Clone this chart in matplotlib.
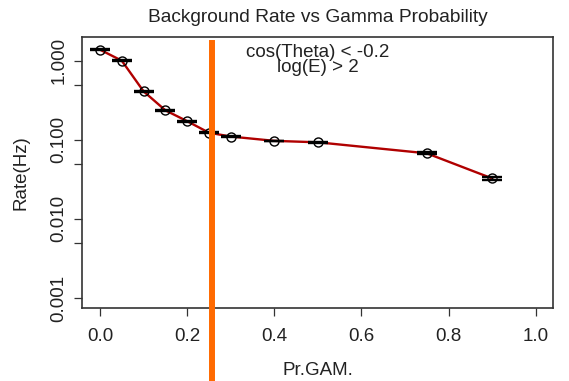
import numpy as np
import matplotlib
matplotlib.use("Agg")
import matplotlib.pyplot as plt

# data
pr_gam = [0.0, 0.05, 0.10, 0.15, 0.20, 0.25, 0.30, 0.40, 0.50, 0.75, 0.90]
rate = [1.38, 1.00, 0.41, 0.236, 0.172, 0.123, 0.110, 0.097, 0.093, 0.0675, 0.0325]
rate_err = [0.02, 0.015, 0.006, 0.003, 0.002, 0.0015, 0.0013, 0.001, 0.001, 0.0018, 0.0014]
cut_value = 0.257

yticks = [1.0, 0.1, 0.01, 0.001]
yticklabels = ["1.000", "0.100", "0.010", "0.001"]
yticks_extra = [0.5, 0.05, 0.005]
xticks = [0.0, 0.2, 0.4, 0.6, 0.8, 1.0]

plt.rcParams['font.family'] = ['Liberation Sans', 'DejaVu Sans']
txt = '#222222'

fig = plt.figure(figsize=(5.69, 3.81), dpi=100)
ax = fig.add_axes([0.1441, 0.1916, 0.8278, 0.7113])

ax.plot(pr_gam, rate, '-', color='#b00000', lw=1.7, zorder=2)
ax.errorbar(pr_gam, rate, yerr=rate_err, fmt='none', ecolor='black',
            elinewidth=1.0, capsize=7.0, capthick=1.7, zorder=3)
ax.plot(pr_gam, rate, 'o', ms=6.5, mfc='none', mec='black', mew=1.0, zorder=4)

ax.axvline(cut_value, ymin=-0.3, ymax=0.978, color='#ff6a00', lw=4.3,
           clip_on=False, zorder=5)

ax.set_yscale('log')
ax.set_xlim(-0.0413, 1.0396)
ax.set_ylim(7.48e-4, 1.994)
ax.set_xticks(xticks)
ax.set_xticklabels(["%.1f" % v for v in xticks])
ax.set_yticks(yticks + yticks_extra)
ax.set_yticklabels(yticklabels + [""] * len(yticks_extra), rotation=90, va='center')
ax.minorticks_off()
ax.tick_params(axis='both', length=5.5, width=0.9, color='#333333',
               labelsize=13.5, labelcolor=txt, pad=5)
ax.tick_params(axis='x', pad=9)
for s in ax.spines.values():
    s.set_linewidth(1.2)
    s.set_color('#333333')

ax.set_xlabel("Pr.GAM.", fontsize=13.5, color=txt, labelpad=12)
ax.set_ylabel("Rate(Hz)", fontsize=13.5, color=txt, labelpad=15)
ax.set_title("Background Rate vs Gamma Probability", fontsize=13.8, color=txt, pad=11)

ax.text(0.5, 0.975, "cos(Theta) < -0.2\nlog(E) > 2", transform=ax.transAxes,
        ha='center', va='top', fontsize=13.5, color=txt, linespacing=0.85)

fig.savefig("out.png", dpi=100)
